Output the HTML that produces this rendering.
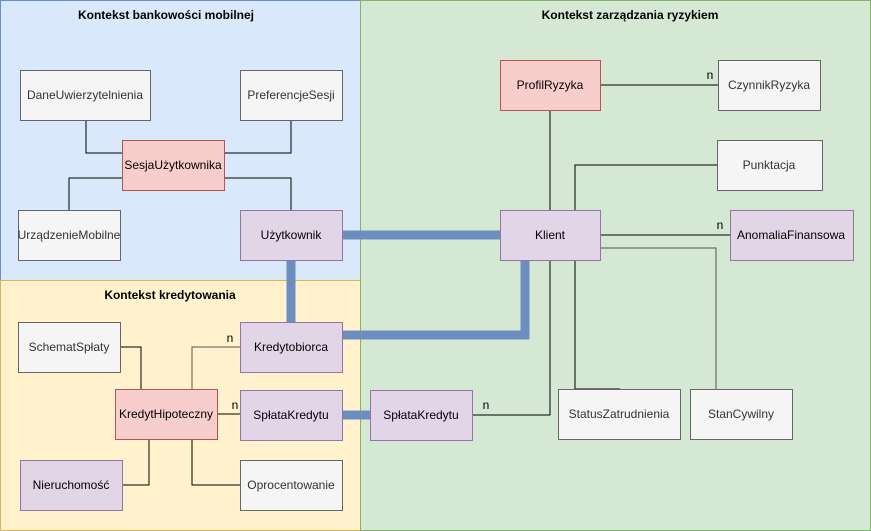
<!DOCTYPE html>
<html><head><meta charset="utf-8"><style>
html,body{margin:0;padding:0;width:871px;height:531px;overflow:hidden;background:#fff}
svg text{font-family:"Liberation Sans",sans-serif;font-size:12px}
</style></head><body>
<svg width="871" height="531" viewBox="0 0 871 531" xmlns="http://www.w3.org/2000/svg">
<rect x="0.5" y="0.5" width="360" height="280" fill="#dae8fc" stroke="#6c8ebf"/>
<rect x="0.5" y="280.5" width="360" height="250" fill="#fff2cc" stroke="#d6b656"/>
<rect x="360.5" y="0.5" width="510" height="530" fill="#d5e8d4" stroke="#82b366"/>
<g font-weight="bold" text-anchor="middle">
<text x="166" y="19">Kontekst bankowości mobilnej</text>
<text x="630" y="19">Kontekst zarządzania ryzykiem</text>
<text x="170" y="299">Kontekst kredytowania</text>
</g>
<g fill="none" stroke="#000" stroke-width="1">
<polyline points="86,120 86,153 122,153"/>
<polyline points="291,120 291,153 224,153"/>
<polyline points="122,178 69,178 69,210"/>
<polyline points="224,178 291,178 291,210"/>
<line x1="550" y1="110" x2="550" y2="210"/>
<line x1="601" y1="85" x2="718" y2="85"/>
<polyline points="575,210 575,165 717,165"/>
<line x1="600" y1="235" x2="730" y2="235"/>
<polyline points="600,248 716,248 716,389" stroke="#555"/>
<polyline points="575,260 575,389 620,389"/>
<polyline points="473,415 550,415 550,260"/>
<polyline points="240,347 192,347 192,389" stroke="#555"/>
<polyline points="121,347 141,347 141,389"/>
<line x1="217" y1="414" x2="240" y2="414"/>
<polyline points="123,485 149,485 149,439"/>
<polyline points="192,439 192,485 240,485"/>
</g>
<g fill="none" stroke="#6c8ebf" stroke-width="9">
<line x1="343" y1="235" x2="500" y2="235"/>
<line x1="291" y1="260" x2="291" y2="322"/>
<polyline points="343,335 525,335 525,260"/>
<line x1="343" y1="415" x2="370" y2="415"/>
</g>
<g text-anchor="middle">
<g fill="#f5f5f5" stroke="#666">
<rect x="20.5" y="70.5" width="130" height="50"/>
<rect x="240.5" y="70.5" width="102" height="50"/>
<rect x="18.5" y="210.5" width="102" height="50"/>
<rect x="718.5" y="60.5" width="102" height="50"/>
<rect x="717.5" y="140.5" width="105" height="50"/>
<rect x="18.5" y="322.5" width="102" height="50"/>
<rect x="240.5" y="460.5" width="102" height="50"/>
<rect x="558.5" y="389.5" width="122" height="50"/>
<rect x="690.5" y="389.5" width="102" height="50"/>
</g>
<g fill="#f8cecc" stroke="#b85450">
<rect x="122.5" y="140.5" width="102" height="50"/>
<rect x="500.5" y="60.5" width="100" height="50"/>
<rect x="115.5" y="389.5" width="102" height="50"/>
</g>
<g fill="#e1d5e7" stroke="#9673a6">
<rect x="240.5" y="210.5" width="102" height="50"/>
<rect x="500.5" y="210.5" width="100" height="50"/>
<rect x="730.5" y="210.5" width="123" height="50"/>
<rect x="240.5" y="322.5" width="102" height="50"/>
<rect x="240.5" y="390.5" width="102" height="50"/>
<rect x="20.5" y="460.5" width="102" height="50"/>
<rect x="370.5" y="390.5" width="102" height="50"/>
</g>
<g fill="#333">
<text x="85" y="99">DaneUwierzytelnienia</text>
<text x="291" y="99">PreferencjeSesji</text>
<text x="69" y="239">UrządzenieMobilne</text>
<text x="769" y="89">CzynnikRyzyka</text>
<text x="769" y="169">Punktacja</text>
<text x="69" y="351">SchematSpłaty</text>
<text x="291" y="489">Oprocentowanie</text>
<text x="619" y="418">StatusZatrudnienia</text>
<text x="741" y="418">StanCywilny</text>
</g>
<g fill="#000">
<text x="173" y="169">SesjaUżytkownika</text>
<text x="550" y="89">ProfilRyzyka</text>
<text x="166" y="418">KredytHipoteczny</text>
<text x="291" y="239">Użytkownik</text>
<text x="550" y="239">Klient</text>
<text x="791" y="239">AnomaliaFinansowa</text>
<text x="291" y="351">Kredytobiorca</text>
<text x="291" y="419">SpłataKredytu</text>
<text x="71" y="489">Nieruchomość</text>
<text x="421" y="419">SpłataKredytu</text>
</g>
<g fill="#000">
<text x="710" y="79">n</text>
<text x="720" y="229">n</text>
<text x="486" y="409">n</text>
<text x="230" y="342">n</text>
<text x="235" y="409">n</text>
</g>
</g>
</svg>
</body></html>
